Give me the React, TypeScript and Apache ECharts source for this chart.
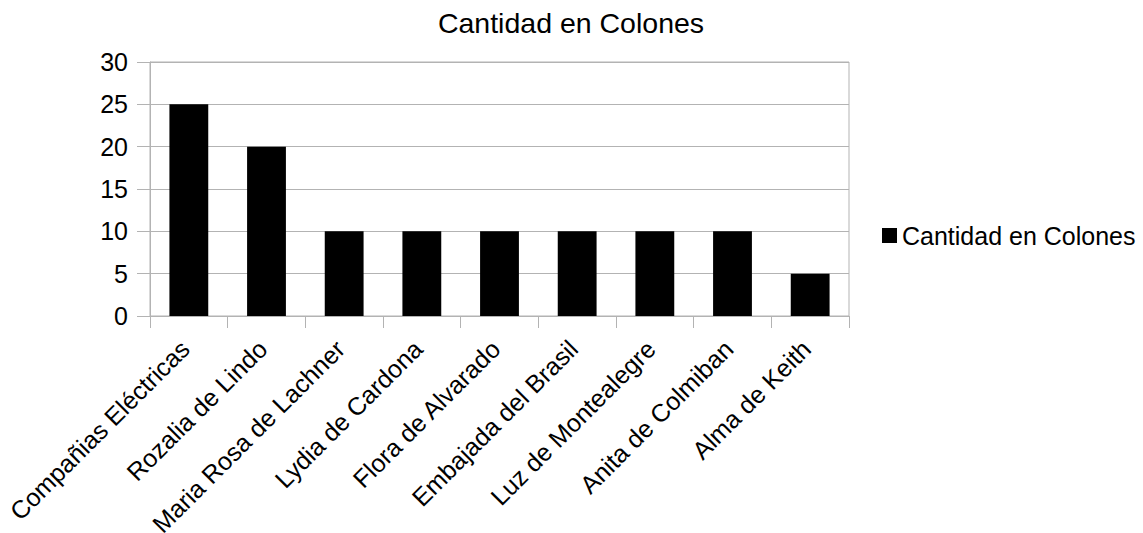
import React, { useEffect, useRef } from "react";
import * as echarts from "echarts";

const categories = [
  "Compañias Eléctricas",
  "Rozalia de Lindo",
  "Maria Rosa de Lachner",
  "Lydia de Cardona",
  "Flora de Alvarado",
  "Embajada del Brasil",
  "Luz de Montealegre",
  "Anita de Colmiban",
  "Alma de Keith",
];
const values = [25, 20, 10, 10, 10, 10, 10, 10, 5];
const seriesName = "Cantidad en Colones";
const titleText = "Cantidad en Colones";

const FONT = '"Liberation Sans", Arial, sans-serif';
const GRID = "#b3b3b3";

export default function App() {
  const ref = useRef<HTMLDivElement>(null);
  useEffect(() => {
    if (!ref.current) return;
    const chart = echarts.init(ref.current, undefined, { renderer: "svg" });
    chart.setOption({
      animation: false,
      backgroundColor: "#ffffff",
      textStyle: { fontFamily: FONT },
      title: {
        text: titleText,
        left: 566,
        textAlign: "center",
        top: 3,
        textStyle: { fontSize: 28.5, fontWeight: "normal", color: "#000", fontFamily: FONT },
      },
      legend: {
        left: 877,
        top: 218,
        orient: "vertical",
        icon: "rect",
        itemWidth: 15,
        itemHeight: 15,
        itemGap: 5,
        textStyle: { fontSize: 25, color: "#000", fontFamily: FONT },
        data: [seriesName],
      },
      grid: {
        left: 150,
        right: 294,
        top: 62,
        bottom: 217,
        show: true,
        borderColor: GRID,
        borderWidth: 1,
        containLabel: false,
        outerBoundsMode: "none",
      },
      xAxis: {
        type: "category",
        data: categories,
        axisLine: { show: true, lineStyle: { color: GRID } },
        axisTick: { show: true, length: 12, alignWithLabel: false, lineStyle: { color: GRID } },
        axisLabel: {
          interval: 0,
          rotate: 45,
          fontSize: 25,
          color: "#000",
          fontFamily: FONT,
          margin: 7,
          align: "right",
          verticalAlign: "top",
          padding: [0, 18, 0, 0],
        },
        splitLine: { show: false },
      },
      yAxis: {
        type: "value",
        min: 0,
        max: 30,
        interval: 5,
        axisLine: { show: true, lineStyle: { color: GRID } },
        axisTick: { show: true, length: 13, lineStyle: { color: GRID } },
        axisLabel: { fontSize: 25, color: "#000", fontFamily: FONT, margin: 22 },
        splitLine: { show: true, lineStyle: { color: GRID } },
      },
      series: [
        {
          name: seriesName,
          type: "bar",
          data: values,
          barWidth: "50%",
          itemStyle: { color: "#000000" },
        },
      ],
    });
    return () => chart.dispose();
  }, []);
  return (
    <div
      ref={ref}
      style={{ position: "fixed", left: 0, top: 0, width: 1143, height: 533 }}
    />
  );
}
